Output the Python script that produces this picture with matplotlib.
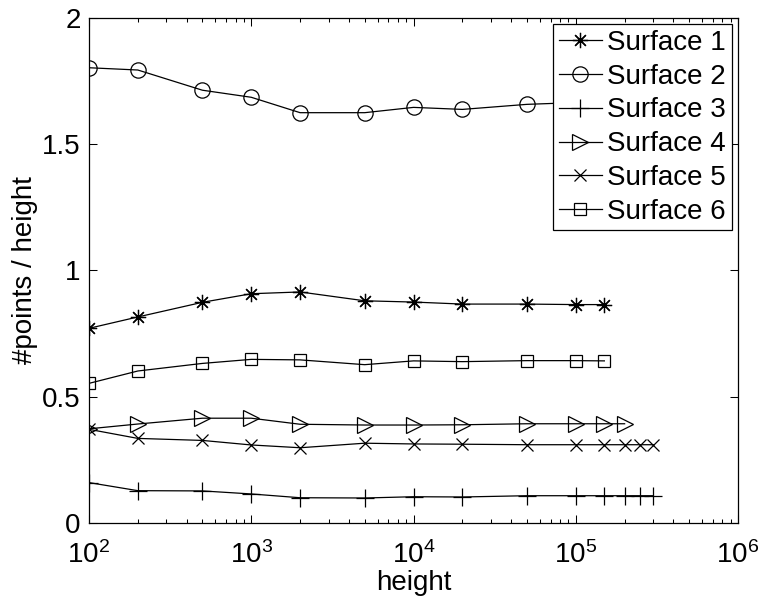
import matplotlib
matplotlib.use("Agg")
import matplotlib.pyplot as plt

plt.rcParams['font.family'] = ['Liberation Sans', 'DejaVu Sans']
plt.rcParams['mathtext.default'] = 'regular'

# sample heights
heights = [100, 200, 500, 1000, 2000, 5000, 10000, 20000, 50000, 100000,
           150000, 200000, 250000, 300000]

surf1 = [0.771, 0.816, 0.874, 0.908, 0.915, 0.880, 0.875, 0.867, 0.867, 0.865, 0.865]
surf2 = [1.803, 1.794, 1.714, 1.686, 1.625, 1.625, 1.646, 1.638, 1.658, 1.665, 1.665]
surf3 = [0.160, 0.128, 0.127, 0.115, 0.100, 0.099, 0.104, 0.103, 0.108, 0.108,
         0.108, 0.108, 0.108, 0.108]
surf4 = [0.373, 0.392, 0.415, 0.415, 0.391, 0.388, 0.388, 0.389, 0.393, 0.393,
         0.393, 0.393]
surf5 = [0.371, 0.335, 0.327, 0.309, 0.298, 0.316, 0.313, 0.312, 0.310, 0.310,
         0.310, 0.310, 0.310, 0.310]
surf6 = [0.553, 0.602, 0.632, 0.648, 0.646, 0.627, 0.642, 0.639, 0.643, 0.643, 0.642]

labels = ['Surface 1', 'Surface 2', 'Surface 3', 'Surface 4', 'Surface 5', 'Surface 6']
series = [surf1, surf2, surf3, surf4, surf5, surf6]
markers = [(8, 2, 0), 'o', '+', '>', 'x', 's']
msizes = [11, 11, 13, 12, 9, 9]

fig = plt.figure(figsize=(7.6, 5.96), dpi=100)
ax = fig.add_axes([0.1171, 0.1225, 0.854, 0.8473])

for vals, lab, m, ms in zip(series, labels, markers, msizes):
    ax.plot(heights[:len(vals)], vals, color='black', linewidth=0.9,
            marker=m, markersize=ms, markerfacecolor='none',
            markeredgecolor='black', markeredgewidth=0.9, label=lab)

ax.set_xscale('log')
ax.set_xlim(100, 1e6)
ax.set_ylim(0, 2)
ax.set_yticks([0, 0.5, 1, 1.5, 2])
ax.set_yticklabels(['0', '0.5', '1', '1.5', '2'])

ax.tick_params(which='both', direction='in', top=True, right=True, labelsize=20,
               width=0.75)
ax.tick_params(which='major', length=6)
ax.tick_params(which='minor', length=3)
ax.tick_params(axis='x', which='major', pad=13)
ax.tick_params(axis='y', which='major', pad=6)
for s in ax.spines.values():
    s.set_linewidth(0.9)

ax.set_xlabel('height', fontsize=20, labelpad=1)
ax.set_ylabel('#points / height', fontsize=20, labelpad=3)

leg = ax.legend(loc='upper right', fontsize=20, handlelength=1.55,
                handletextpad=0.2, labelspacing=0.28, borderpad=0.2,
                borderaxespad=0.23, fancybox=False, framealpha=1,
                edgecolor='black')
leg.get_frame().set_linewidth(0.9)

fig.savefig('out.png', dpi=100)
